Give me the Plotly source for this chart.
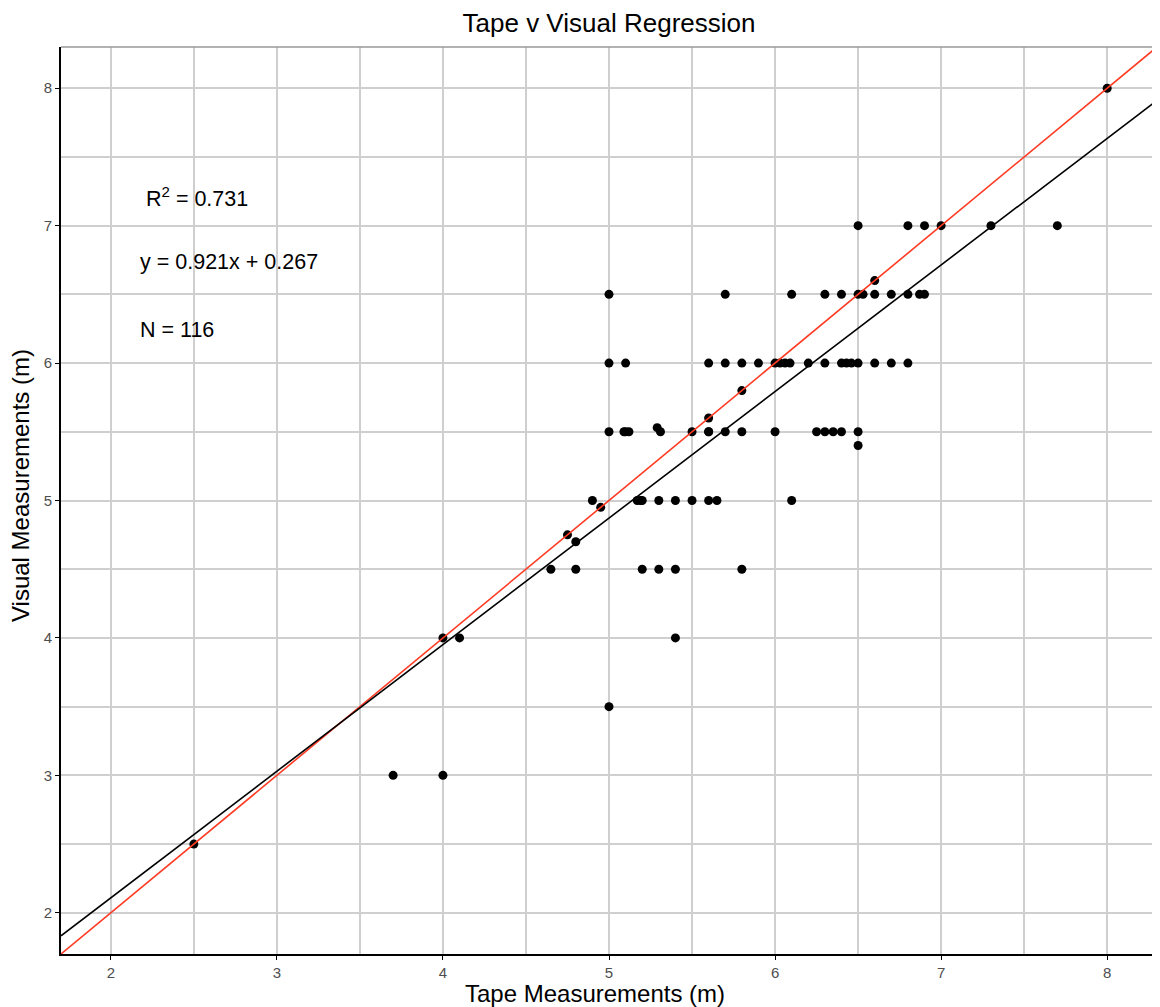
import plotly.graph_objects as go

# Data
tape = [
    2.5,
    3.7, 4.0,
    5.0,
    4.0, 4.1, 5.4,
    4.65, 4.8, 5.2, 5.3, 5.4, 5.8,
    4.8, 4.75, 4.95,
    4.9, 5.17, 5.19, 5.2, 5.3, 5.4, 5.5, 5.6, 5.65, 6.1,
    6.5,
    5.0, 5.09, 5.10, 5.12, 5.29, 5.31, 5.5, 5.6, 5.6, 5.7, 5.8, 6.0, 6.25, 6.3, 6.35, 6.4, 6.5,
    5.6, 5.8,
    5.0, 5.1, 5.6, 5.7, 5.8, 5.9, 6.0, 6.03, 6.06, 6.09, 6.2, 6.3, 6.4, 6.43, 6.46, 6.5, 6.6, 6.7, 6.8,
    5.0, 5.7, 6.1, 6.3, 6.4, 6.5, 6.53, 6.6, 6.7, 6.8, 6.87, 6.9,
    6.6,
    6.5, 6.8, 6.9, 7.0, 7.3, 7.7,
    8.0,
]
visual = [
    2.5,
    3.0, 3.0,
    3.5,
    4.0, 4.0, 4.0,
    4.5, 4.5, 4.5, 4.5, 4.5, 4.5,
    4.7, 4.75, 4.95,
    5.0, 5.0, 5.0, 5.0, 5.0, 5.0, 5.0, 5.0, 5.0, 5.0,
    5.4,
    5.5, 5.5, 5.5, 5.5, 5.53, 5.5, 5.5, 5.5, 5.5, 5.5, 5.5, 5.5, 5.5, 5.5, 5.5, 5.5, 5.5,
    5.6, 5.8,
    6.0, 6.0, 6.0, 6.0, 6.0, 6.0, 6.0, 6.0, 6.0, 6.0, 6.0, 6.0, 6.0, 6.0, 6.0, 6.0, 6.0, 6.0, 6.0,
    6.5, 6.5, 6.5, 6.5, 6.5, 6.5, 6.5, 6.5, 6.5, 6.5, 6.5, 6.5,
    6.6,
    7.0, 7.0, 7.0, 7.0, 7.0, 7.0,
    8.0,
]
slope = 0.921
intercept = 0.267
r_squared = 0.731
n_obs = 116
x_range = [1.7, 8.3]
y_range = [1.7, 8.3]
tick_vals = [2, 3, 4, 5, 6, 7, 8]

fit_x = x_range
fit_y = [slope * v + intercept for v in fit_x]

font = "Liberation Sans, Arial, sans-serif"

fig = go.Figure()
fig.add_trace(go.Scatter(
    x=tape, y=visual, mode="markers",
    marker=dict(color="black", size=9, line=dict(width=0)),
    showlegend=False, hoverinfo="x+y",
))
fig.add_trace(go.Scatter(
    x=x_range, y=x_range, mode="lines",
    line=dict(color="#ff3b24", width=1.6), showlegend=False,
))
fig.add_trace(go.Scatter(
    x=fit_x, y=fit_y, mode="lines",
    line=dict(color="black", width=1.6), showlegend=False,
))

ann_style = dict(xref="x", yref="y", showarrow=False, xanchor="left",
                 font=dict(family=font, size=21.5, color="black"))
fig.add_annotation(x=2.2, y=7.21, text=f"R<sup>2</sup> = {r_squared}", **ann_style)
fig.add_annotation(x=2.165, y=6.735, text=f"y = {slope}x + {intercept}", **ann_style)
fig.add_annotation(x=2.165, y=6.24, text=f"N = {n_obs}", **ann_style)

# axis titles as annotations (placed where the reference has them)
fig.add_annotation(xref="paper", yref="paper", x=0.487, y=-0.043,
                   xanchor="center", yanchor="middle", showarrow=False,
                   text="Tape Measurements (m)",
                   font=dict(family=font, size=24, color="black"))
fig.add_annotation(xref="paper", yref="paper", x=-0.0375, y=0.517,
                   xanchor="center", yanchor="middle", showarrow=False, textangle=-90,
                   text="Visual Measurements (m)",
                   font=dict(family=font, size=24, color="black"))

# top and right panel border (gray)
fig.add_shape(type="line", xref="paper", yref="paper", x0=0, x1=1, y0=1, y1=1,
              line=dict(color="#999999", width=1.5))
fig.add_shape(type="line", xref="paper", yref="paper", x0=1, x1=1, y0=0, y1=1,
              line=dict(color="#999999", width=1.5))

axis_common = dict(
    showgrid=True, gridcolor="#cfcfcf", gridwidth=1.5,
    minor=dict(dtick=0.5, showgrid=True, gridcolor="#cfcfcf", gridwidth=1.5, ticks=""),
    showline=True, linecolor="black", linewidth=2,
    ticks="outside", ticklen=4, tickcolor="black", tickwidth=1.2,
    tickfont=dict(family=font, size=15, color="#4d4d4d"),
    zeroline=False, tickvals=tick_vals,
)

# page body adds an 8px offset; size the figure so the plot panel lands where the reference has it
fig.update_layout(
    width=1152, height=999,
    margin=dict(l=53, r=3, t=39, b=53),
    paper_bgcolor="white", plot_bgcolor="white",
    title=dict(text="Tape v Visual Regression", xref="paper", x=0.5, xanchor="center",
               y=0.985, yanchor="middle",
               font=dict(family=font, size=26, color="black")),
    xaxis=dict(range=x_range, **axis_common),
    yaxis=dict(range=y_range, **axis_common),
)

fig.write_html("out.html")
